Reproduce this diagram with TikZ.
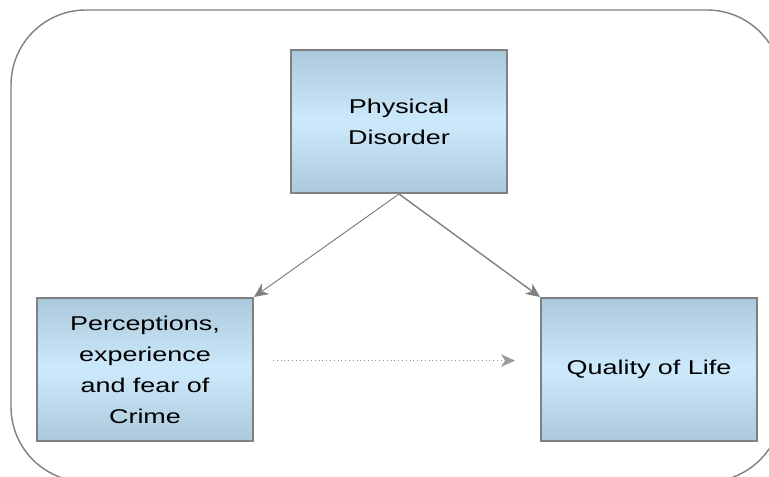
\documentclass[tikz,border=0pt]{standalone}
\usepackage{fontspec}
\setmainfont[FakeStretch=1.35]{Liberation Sans}
\usepackage{tikz}
\usepackage{xcolor}
\usetikzlibrary{arrows.meta}
\definecolor{boxtop}{RGB}{172,201,220}
\definecolor{boxmid}{RGB}{204,234,252}
\definecolor{edgegray}{RGB}{128,128,128}
\definecolor{dotgray}{RGB}{150,150,150}

\begin{document}
\begin{tikzpicture}
      \useasboundingbox(0,0) rectangle (19.225,11.925);
      \tikzset{B/.style = {shape=rectangle, draw=edgegray, line width=1.4pt, text=black,
          minimum width=5.4cm, minimum height=3.575cm, inner sep=0pt, align=center,
          top color=boxtop, bottom color=boxtop, middle color=boxmid,
          font=\fontsize{14.2}{22}\selectfont}}
      \tikzset{E/.style = {draw=edgegray, line width=0.7pt, -{Stealth[length=10pt,width=9pt,inset=3pt]}}}
      \begin{scope}
        \clip (0,0) rectangle (19.225,11.925);
        \draw[edgegray,line width=1pt,rounded corners=1.875cm] (0.275,-0.12) rectangle (19.55,11.675);
      \end{scope}
      \node[B](pd) at (9.975,8.8875) {Physical\\Disorder};
      \node[B](pc) at (3.625,2.6875) {Perceptions,\\experience\\and fear of\\Crime};
      \node[B](ql) at (16.225,2.6875) {Quality of Life};
      \coordinate (c0) at (6.825,2.91);
      \coordinate (c1) at (12.875,2.91);
      \draw[E](pd.south) to (pc.north east);
      \draw[E,line width=1pt](pd.south) to (ql.north west);
      \draw[E,draw=dotgray,dotted,line width=0.6pt,-{Stealth[length=10pt,width=9pt,inset=3pt,color=edgegray!80]}](c0) to (c1);
    \end{tikzpicture}
\end{document}
